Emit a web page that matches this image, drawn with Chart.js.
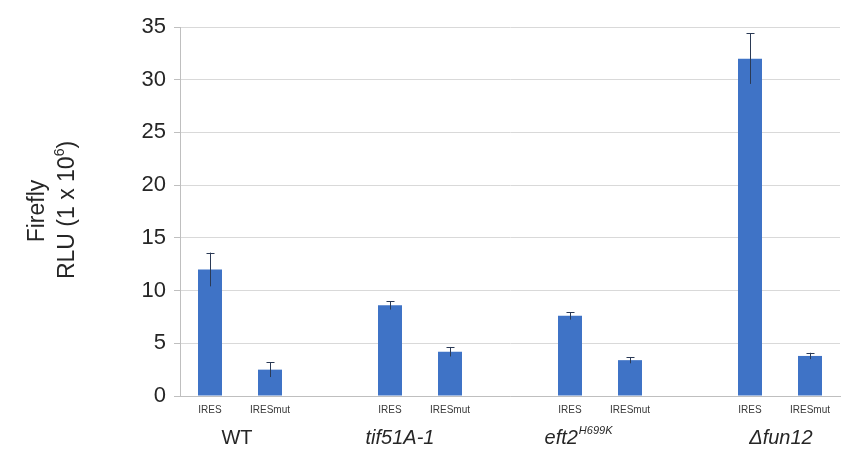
<!DOCTYPE html>
<html>
<head>
<meta charset="utf-8">
<script src="https://cdn.jsdelivr.net/npm/chart.js@4.4.1/dist/chart.umd.min.js"></script>
<style>
  html, body { margin: 0; padding: 0; background: #ffffff; }
  #wrap { width: 843px; height: 473px; position: relative; }
</style>
</head>
<body>
<div id="wrap"><canvas id="c" width="843" height="473"></canvas></div>
<script>
// Strains (group labels under each pair of bars)
const strains = ['WT', 'tif51A-1', 'eft2', '\u0394fun12'];
const strainSup = ['', '', 'H699K', ''];
const strainItalic = [false, true, true, true];
// Reporter constructs within each strain
const constructs = ['IRES', 'IRESmut'];
// Firefly RLU (x 10^6), mean and error
const iresMean = [12.0, 8.6, 7.6, 32.0];
const iresErr = [1.6, 0.4, 0.35, 2.4];
const mutMean = [2.5, 4.2, 3.4, 3.8];
const mutErr = [0.7, 0.45, 0.3, 0.3];
// Y axis ticks
const yTicks = [0, 5, 10, 15, 20, 25, 30, 35];

// Category layout: IRES, IRESmut, spacer, IRES, IRESmut, spacer, ...
const labels = [];
const values = [];
const errors = [];
strains.forEach((s, i) => {
  if (i > 0) { labels.push(''); values.push(null); errors.push(null); }
  labels.push(constructs[0]); values.push(iresMean[i]); errors.push(iresErr[i]);
  labels.push(constructs[1]); values.push(mutMean[i]); errors.push(mutErr[i]);
});

const FONT = "'Liberation Sans', Arial, sans-serif";
// horizontal nudge of each strain name relative to its pair centre (px)
const strainNudge = [-3, -20, -22, 1];

const errorBars = {
  id: 'errorBars',
  afterDatasetsDraw(chart) {
    const ctx = chart.ctx;
    const y = chart.scales.y;
    const meta = chart.getDatasetMeta(0);
    ctx.save();
    ctx.strokeStyle = '#2b3a55';
    ctx.lineWidth = 1;
    values.forEach((v, i) => {
      if (v == null) return;
      const el = meta.data[i];
      const x = Math.round(el.x) + 0.5;
      const yt = y.getPixelForValue(v + errors[i]);
      const yb = y.getPixelForValue(v - errors[i]);
      ctx.beginPath();
      ctx.moveTo(x, yt); ctx.lineTo(x, yb);
      ctx.moveTo(x - 4, Math.round(yt) + 0.5); ctx.lineTo(x + 4, Math.round(yt) + 0.5);
      ctx.stroke();
    });
    ctx.restore();
  }
};

const textLabels = {
  id: 'textLabels',
  afterDraw(chart) {
    const ctx = chart.ctx;
    const meta = chart.getDatasetMeta(0);
    ctx.save();
    ctx.fillStyle = '#262626';
    // Y axis title, two rotated lines
    ctx.font = '23px ' + FONT;
    ctx.textAlign = 'center';
    ctx.textBaseline = 'middle';
    ctx.save();
    ctx.translate(38, 211);
    ctx.rotate(-Math.PI / 2);
    ctx.fillText('Firefly', 0, 0);
    ctx.restore();
    ctx.save();
    ctx.translate(68, 210);
    ctx.rotate(-Math.PI / 2);
    const main = 'RLU (1 x 10';
    const sup = '6';
    const close = ')';
    ctx.font = '23px ' + FONT;
    const wMain = ctx.measureText(main).width;
    const wClose = ctx.measureText(close).width;
    ctx.font = '14px ' + FONT;
    const wSup = ctx.measureText(sup).width;
    const total = wMain + wSup + wClose;
    let px = -total / 2;
    ctx.textAlign = 'left';
    ctx.font = '23px ' + FONT;
    ctx.fillText(main, px, 0); px += wMain;
    ctx.font = '14px ' + FONT;
    ctx.fillText(sup, px, -8); px += wSup;
    ctx.font = '23px ' + FONT;
    ctx.fillText(close, px, 0);
    ctx.restore();

    // Strain names under each pair
    strains.forEach((s, i) => {
      const a = meta.data[i * 3].x;
      const b = meta.data[i * 3 + 1].x;
      const cx = (a + b) / 2 + strainNudge[i];
      const style = strainItalic[i] ? 'italic ' : '';
      ctx.font = style + '20px ' + FONT;
      const w = ctx.measureText(s).width;
      let ws = 0;
      if (strainSup[i]) {
        ctx.font = style + '11px ' + FONT;
        ws = ctx.measureText(strainSup[i]).width;
      }
      let px = cx - (w + ws) / 2;
      ctx.textAlign = 'left';
      ctx.textBaseline = 'middle';
      ctx.font = style + '20px ' + FONT;
      ctx.fillText(s, px, 438);
      if (strainSup[i]) {
        ctx.font = style + '11px ' + FONT;
        ctx.fillText(strainSup[i], px + w + 1, 431);
      }
    });
    ctx.restore();
  }
};

new Chart(document.getElementById('c'), {
  type: 'bar',
  data: {
    labels: labels,
    datasets: [{
      data: values,
      backgroundColor: '#3f73c6',
      borderWidth: 0,
      barPercentage: 0.4,
      categoryPercentage: 1.0
    }]
  },
  options: {
    responsive: false,
    animation: false,
    devicePixelRatio: 1,
    layout: { padding: { left: 0, right: 3, top: 27, bottom: 0 } },
    plugins: { legend: { display: false }, tooltip: { enabled: false } },
    scales: {
      x: {
        grid: { display: false, drawTicks: false },
        border: { display: true, color: '#bfbfbf' },
        ticks: {
          font: { family: FONT, size: 10 },
          color: '#3a3a3a',
          padding: 8,
          maxRotation: 0,
          autoSkip: false
        },
        afterFit(scale) { scale.height = 77; }
      },
      y: {
        min: 0,
        max: 35,
        afterBuildTicks(scale) { scale.ticks = yTicks.map(v => ({ value: v })); },
        grid: { color: '#d9d9d9', tickLength: 6, tickColor: '#bfbfbf' },
        border: { display: true, color: '#bfbfbf' },
        ticks: {
          font: { family: FONT, size: 22 },
          color: '#262626',
          padding: 8
        },
        afterFit(scale) { scale.width = 180; }
      }
    }
  },
  plugins: [errorBars, textLabels]
});
</script>
</body>
</html>
